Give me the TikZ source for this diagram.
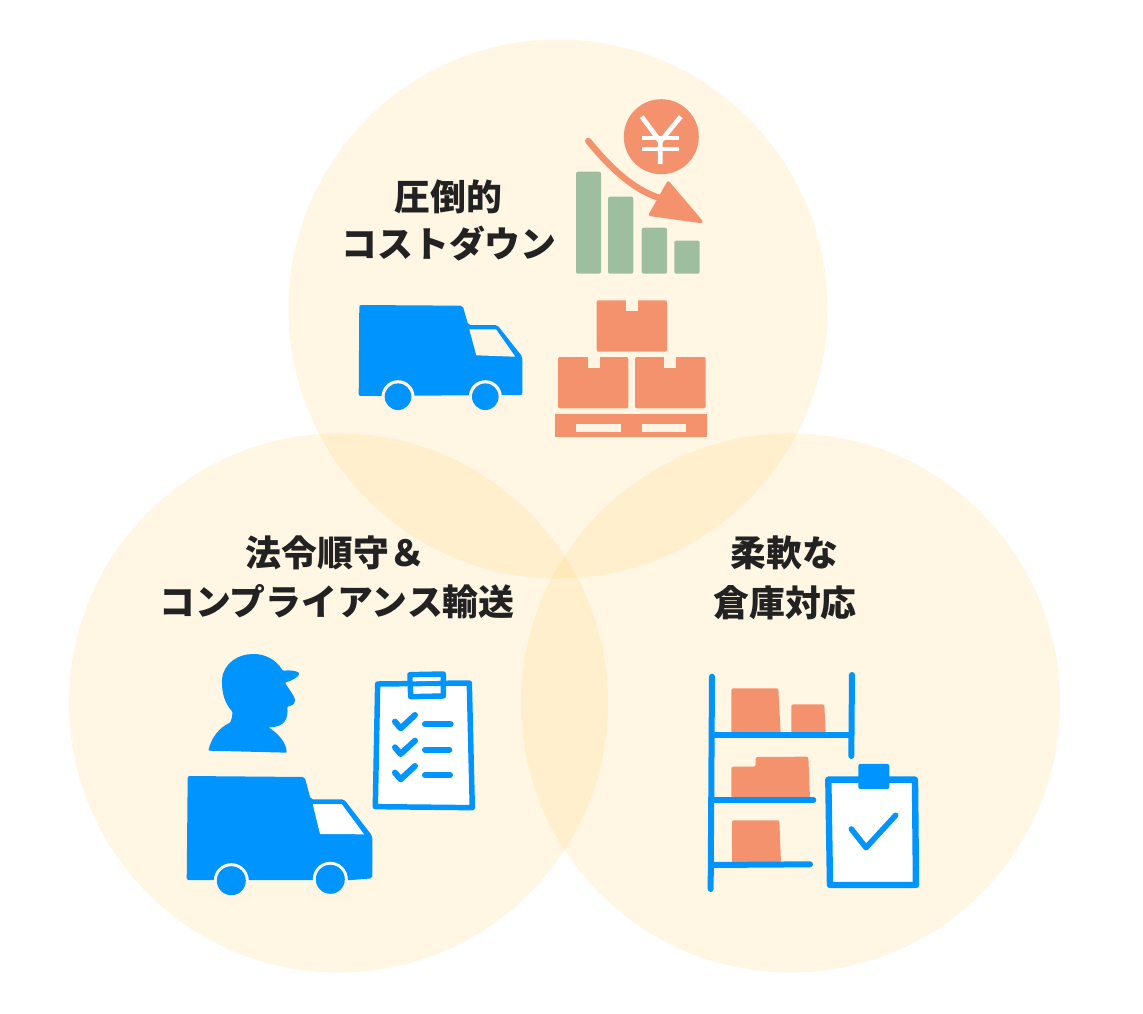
\documentclass[tikz,border=0pt]{standalone}
\usepackage{fontspec}
\newfontfamily\cjk{Noto Sans CJK JP}
\definecolor{blu}{HTML}{0094FF}
\definecolor{org}{HTML}{F4926E}
\definecolor{grn}{HTML}{9DBF9F}
\definecolor{crm}{HTML}{FFF5E2}
\definecolor{ink}{HTML}{222222}
\tikzset{
  venn/.style={fill={rgb,255:red,255;green,208;blue,100},fill opacity=.18},
  head/.style={font=\cjk\bfseries\fontsize{26.9}{30}\selectfont,text=ink,inner sep=0pt,anchor=center},
  bl/.style={fill=blu,rounded corners=1.5pt},
  or/.style={fill=org,rounded corners=1.5pt},
  bar/.style={fill=grn,rounded corners=1.5pt},
  tab/.style={fill=crm},
  stk/.style={draw=blu,line width=4.5pt,line cap=round,line join=round},
  thin/.style={draw=blu,line width=4.1pt,line cap=round,line join=round},
  wring/.style={fill=crm},
}
\begin{document}
\begin{tikzpicture}[x=.75pt,y=-.75pt]
\useasboundingbox (0,0) rectangle (1143,1014);
\fill[white] (0,0) rectangle (1143,1014);
\fill[venn] (558,309) circle[radius=269.5];
\fill[venn] (338.5,703) circle[radius=269.5];
\fill[venn] (790.5,703) circle[radius=269.5];
% headings
\node[head] (t1a) at (448.5,197) {圧倒的};
\node[head] (t1b) at (449,244) {コストダウン};
\node[head] (t2a) at (335.5,553) {法令順守＆};
\node[head] (t2b) at (337,602) {コンプライアンス輸送};
\node[head] (t3a) at (784.5,553) {柔軟な};
\node[head] (t3b) at (785,603) {倉庫対応};
% --- top: bars
\fill[bar] (576,171.7) rectangle (601,273.7);
\fill[bar] (608,196.7) rectangle (633.3,273.7);
\fill[bar] (641.7,227.7) rectangle (667,273.7);
\fill[bar] (674.3,240.7) rectangle (699.7,273.7);
% coin
\fill[org] (661.3,136.7) circle[radius=37.5];
\draw[white,line width=3.5pt] (641.7,116.7) -- (660.3,141.7) -- (680.7,116.7) (660.3,141.7) -- (660.3,164);
\draw[white,line width=3pt] (642.3,138.3) -- (679,138.3) (642.3,149.3) -- (679,149.3);
% arrow
\draw[org,line width=4.8pt,line cap=round] (588.3,141) .. controls (606,163) and (632,190) .. (660,198);
\fill[org,draw=org,line width=2.5pt,line join=round] (668.3,183) -- (701,221.5) -- (650.5,214.5) -- cycle;
% truck 1
\fill[bl] (359.3,305) -- (462.7,305.7) -- (468.3,325) -- (497.3,325) -- (522.3,356.7) -- (522.3,395) -- (358.7,396) -- cycle;
\fill[crm] (469.3,329.3) -- (496,329.3) -- (515.3,356.7) -- (476.3,355.3) -- cycle;
\fill[wring] (398,396.7) circle[radius=16.5] (485.3,396.7) circle[radius=16.5];
\fill[crm] (380,397.5) rectangle (416,410) (467,397.5) rectangle (504,410);
\fill[blu] (398,396.7) circle[radius=13.3] (485.3,396.7) circle[radius=13.3];
% boxes
\fill[or] (596.7,300.3) rectangle (667,351.7);
\fill[or] (558,357) rectangle (628.3,408.3);
\fill[or] (635,357) rectangle (705.7,408.3);
\fill[tab] (625.7,300.3) rectangle (637.7,311);
\fill[tab] (587.7,357) rectangle (599.7,367.7);
\fill[tab] (664,357) rectangle (676.3,367.7);
\fill[org] (555,413.7) rectangle (707,437);
\fill[tab] (576,424.3) rectangle (620.7,432);
\fill[tab] (641.7,424.3) rectangle (686.3,432);
% --- left: person
\begin{scope}[shift={(170,640)},scale=.3333]
\fill[blu,rounded corners=.6pt] (115,332) .. controls (125,290) and (150,262) .. (180,248)
 .. controls (186,235) and (188,225) .. (187,215)
 .. controls (165,190) and (155,160) .. (156,120)
 .. controls (160,70) and (205,42) .. (250,42)
 .. controls (285,42) and (320,60) .. (338,92)
 .. controls (360,90) and (380,92) .. (388,100)
 .. controls (385,112) and (365,122) .. (345,128)
 .. controls (355,145) and (375,170) .. (375,182)
 .. controls (372,195) and (362,198) .. (352,200)
 .. controls (355,235) and (345,262) .. (295,262)
 .. controls (325,280) and (350,310) .. (350,338) -- cycle;
% clipboard
\draw[thin,fill=white] (623,132) -- (898,129) -- (907,503) -- (616,500) -- cycle;
\draw[thin] (720,104) -- (820,102) -- (820,168) -- (722,170) -- cycle;
\fill[white] (728,113) -- (810,111) -- (810,122) -- (728,124) -- cycle;
\draw[stk] (675,245) -- (692,265) -- (735,225);
\draw[stk] (675,322) -- (692,342) -- (735,302);
\draw[stk] (675,398) -- (692,418) -- (735,378);
\draw[stk] (765,253) -- (842,253) (765,329) -- (838,329) (765,406) -- (840,406);
\end{scope}
% truck 2
\fill[bl] (187.7,776) -- (304.7,777) -- (310.7,799.3) -- (344,799.3) -- (372.3,836) -- (372.3,878.3) -- (347.7,880.3) -- (186.7,880) -- cycle;
\fill[white] (312.7,804) -- (341.7,804) -- (364,834.3) -- (320,834) -- cycle;
\fill[white] (231.3,880.7) circle[radius=17.5] (330.3,879.3) circle[radius=17.5];
\fill[crm] (210,882) rectangle (252,900) (309,882) rectangle (351,900);
\fill[blu] (231.3,880.7) circle[radius=14.5] (330.3,879.3) circle[radius=14.5];
% --- right: shelf
\begin{scope}[shift={(690,660)},scale=.3333]
\fill[or] (124,220) -- (124,85) -- (265,85) -- (272,220) -- cycle;
\fill[or] (304,220) -- (304,133) -- (403,133) -- (407,220) -- cycle;
\fill[or] (124,414) -- (124,320) -- (197,320) -- (197,291) -- (355,290) -- (360,414) -- cycle;
\fill[or] (126,609) -- (126,481) -- (268,481) -- (273,609) -- cycle;
\draw[stk] (66,50) -- (62,687);
\draw[stk] (486,45) -- (484,288);
\draw[stk] (68,226) -- (484,226);
\draw[stk] (68,420) -- (370,420);
\draw[stk] (68,615) -- (360,613);
\draw[draw=blu,line width=4.8pt,line join=round,fill=white] (415,359) -- (675,359) -- (678,675) -- (420,675) -- cycle;
\fill[blu,rounded corners=1.5pt] (505,312) rectangle (598,387);
\draw[draw=blu,line width=4.2pt,line cap=round,line join=round] (484,507) -- (528,563) -- (617,466);
\end{scope}
\end{tikzpicture}
\end{document}
